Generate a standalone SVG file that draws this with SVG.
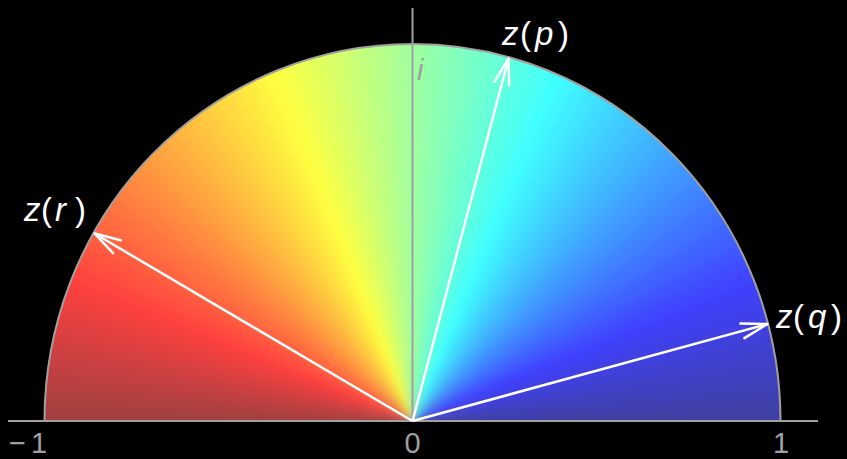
<svg xmlns="http://www.w3.org/2000/svg" width="847" height="459" viewBox="0 0 847 459">
<defs>
<style>
.lbl{font-family:"Liberation Sans",Arial,sans-serif;font-size:33px;fill:#fff}
.it{font-style:italic}
.tick{font-family:"Liberation Sans",Arial,sans-serif;font-size:29px;fill:#a0a0a0}
.axis{stroke:#a0a0a0;stroke-width:2;fill:none}
.arrow{stroke:#fff;stroke-width:2.5;fill:none;marker-end:url(#ah)}
</style>
<clipPath id="half"><path d="M44.5,421 A368,377 0 0,1 780.5,421 Z"/></clipPath>
<filter id="soft" x="-5%" y="-5%" width="110%" height="110%"><feGaussianBlur stdDeviation="3"/></filter>
<polygon id="w" points="0,0 460,1 460,-17.5"/>
<marker id="ah" markerUnits="userSpaceOnUse" markerWidth="40" markerHeight="30" refX="0" refY="0" viewBox="-30 -15 40 30" orient="auto"><path d="M-26,-7.5 L0,0 L-26,7.5" fill="none" stroke="#fff" stroke-width="2.5" stroke-linecap="round" stroke-linejoin="round"/></marker>
</defs>
<rect width="847" height="459" fill="#000"/>
<g id="disk" clip-path="url(#half)">
<g filter="url(#soft)">
<g transform="translate(412.5,421) scale(1,1.0245)">
<polygon points="-470,0 470,0 0,-470" fill="rgb(150,170,150)"/>
<polygon points="0,-1 470,-1 470,60 0,60" fill="rgb(64,64,160)"/>
<polygon points="0,-1 -470,-1 -470,60 0,60" fill="rgb(160,64,64)"/>
<use href="#w" transform="rotate(0)" fill="rgb(64,64,164)"/>
<use href="#w" transform="rotate(-2)" fill="rgb(64,64,173)"/>
<use href="#w" transform="rotate(-4)" fill="rgb(64,64,182)"/>
<use href="#w" transform="rotate(-6)" fill="rgb(64,64,190)"/>
<use href="#w" transform="rotate(-8)" fill="rgb(64,64,199)"/>
<use href="#w" transform="rotate(-10)" fill="rgb(64,64,208)"/>
<use href="#w" transform="rotate(-12)" fill="rgb(64,64,216)"/>
<use href="#w" transform="rotate(-14)" fill="rgb(64,64,225)"/>
<use href="#w" transform="rotate(-16)" fill="rgb(64,64,233)"/>
<use href="#w" transform="rotate(-18)" fill="rgb(64,64,242)"/>
<use href="#w" transform="rotate(-20)" fill="rgb(64,64,251)"/>
<use href="#w" transform="rotate(-22)" fill="rgb(64,68,255)"/>
<use href="#w" transform="rotate(-24)" fill="rgb(64,77,255)"/>
<use href="#w" transform="rotate(-26)" fill="rgb(64,85,255)"/>
<use href="#w" transform="rotate(-28)" fill="rgb(64,94,255)"/>
<use href="#w" transform="rotate(-30)" fill="rgb(64,102,255)"/>
<use href="#w" transform="rotate(-32)" fill="rgb(64,111,255)"/>
<use href="#w" transform="rotate(-34)" fill="rgb(64,119,255)"/>
<use href="#w" transform="rotate(-36)" fill="rgb(64,128,255)"/>
<use href="#w" transform="rotate(-38)" fill="rgb(64,136,255)"/>
<use href="#w" transform="rotate(-40)" fill="rgb(64,145,255)"/>
<use href="#w" transform="rotate(-42)" fill="rgb(64,153,255)"/>
<use href="#w" transform="rotate(-44)" fill="rgb(64,162,255)"/>
<use href="#w" transform="rotate(-46)" fill="rgb(64,170,255)"/>
<use href="#w" transform="rotate(-48)" fill="rgb(64,179,255)"/>
<use href="#w" transform="rotate(-50)" fill="rgb(64,187,255)"/>
<use href="#w" transform="rotate(-52)" fill="rgb(64,196,255)"/>
<use href="#w" transform="rotate(-54)" fill="rgb(64,204,255)"/>
<use href="#w" transform="rotate(-56)" fill="rgb(64,213,255)"/>
<use href="#w" transform="rotate(-58)" fill="rgb(64,221,255)"/>
<use href="#w" transform="rotate(-60)" fill="rgb(64,230,255)"/>
<use href="#w" transform="rotate(-62)" fill="rgb(64,238,255)"/>
<use href="#w" transform="rotate(-64)" fill="rgb(64,247,255)"/>
<use href="#w" transform="rotate(-66)" fill="rgb(64,255,255)"/>
<use href="#w" transform="rotate(-68)" fill="rgb(72,255,247)"/>
<use href="#w" transform="rotate(-70)" fill="rgb(81,255,238)"/>
<use href="#w" transform="rotate(-72)" fill="rgb(89,255,230)"/>
<use href="#w" transform="rotate(-74)" fill="rgb(97,255,222)"/>
<use href="#w" transform="rotate(-76)" fill="rgb(106,255,214)"/>
<use href="#w" transform="rotate(-78)" fill="rgb(114,255,205)"/>
<use href="#w" transform="rotate(-80)" fill="rgb(122,255,197)"/>
<use href="#w" transform="rotate(-82)" fill="rgb(131,255,189)"/>
<use href="#w" transform="rotate(-84)" fill="rgb(139,255,181)"/>
<use href="#w" transform="rotate(-86)" fill="rgb(147,255,172)"/>
<use href="#w" transform="rotate(-88)" fill="rgb(156,255,164)"/>
<use href="#w" transform="rotate(-90)" fill="rgb(164,255,156)"/>
<use href="#w" transform="rotate(-92)" fill="rgb(173,255,147)"/>
<use href="#w" transform="rotate(-94)" fill="rgb(182,255,138)"/>
<use href="#w" transform="rotate(-96)" fill="rgb(190,255,129)"/>
<use href="#w" transform="rotate(-98)" fill="rgb(199,255,121)"/>
<use href="#w" transform="rotate(-100)" fill="rgb(208,255,112)"/>
<use href="#w" transform="rotate(-102)" fill="rgb(216,255,103)"/>
<use href="#w" transform="rotate(-104)" fill="rgb(225,255,95)"/>
<use href="#w" transform="rotate(-106)" fill="rgb(233,255,86)"/>
<use href="#w" transform="rotate(-108)" fill="rgb(242,255,77)"/>
<use href="#w" transform="rotate(-110)" fill="rgb(251,255,68)"/>
<use href="#w" transform="rotate(-112)" fill="rgb(255,251,64)"/>
<use href="#w" transform="rotate(-114)" fill="rgb(255,243,64)"/>
<use href="#w" transform="rotate(-116)" fill="rgb(255,234,64)"/>
<use href="#w" transform="rotate(-118)" fill="rgb(255,226,64)"/>
<use href="#w" transform="rotate(-120)" fill="rgb(255,218,64)"/>
<use href="#w" transform="rotate(-122)" fill="rgb(255,209,64)"/>
<use href="#w" transform="rotate(-124)" fill="rgb(255,201,64)"/>
<use href="#w" transform="rotate(-126)" fill="rgb(255,193,64)"/>
<use href="#w" transform="rotate(-128)" fill="rgb(255,185,64)"/>
<use href="#w" transform="rotate(-130)" fill="rgb(255,176,64)"/>
<use href="#w" transform="rotate(-132)" fill="rgb(255,168,64)"/>
<use href="#w" transform="rotate(-134)" fill="rgb(255,160,64)"/>
<use href="#w" transform="rotate(-136)" fill="rgb(255,151,64)"/>
<use href="#w" transform="rotate(-138)" fill="rgb(255,143,64)"/>
<use href="#w" transform="rotate(-140)" fill="rgb(255,135,64)"/>
<use href="#w" transform="rotate(-142)" fill="rgb(255,126,64)"/>
<use href="#w" transform="rotate(-144)" fill="rgb(255,118,64)"/>
<use href="#w" transform="rotate(-146)" fill="rgb(255,110,64)"/>
<use href="#w" transform="rotate(-148)" fill="rgb(255,102,64)"/>
<use href="#w" transform="rotate(-150)" fill="rgb(255,93,64)"/>
<use href="#w" transform="rotate(-152)" fill="rgb(255,85,64)"/>
<use href="#w" transform="rotate(-154)" fill="rgb(255,77,64)"/>
<use href="#w" transform="rotate(-156)" fill="rgb(255,68,64)"/>
<use href="#w" transform="rotate(-158)" fill="rgb(251,64,64)"/>
<use href="#w" transform="rotate(-160)" fill="rgb(242,64,64)"/>
<use href="#w" transform="rotate(-162)" fill="rgb(233,64,64)"/>
<use href="#w" transform="rotate(-164)" fill="rgb(225,64,64)"/>
<use href="#w" transform="rotate(-166)" fill="rgb(216,64,64)"/>
<use href="#w" transform="rotate(-168)" fill="rgb(207,64,64)"/>
<use href="#w" transform="rotate(-170)" fill="rgb(199,64,64)"/>
<use href="#w" transform="rotate(-172)" fill="rgb(190,64,64)"/>
<use href="#w" transform="rotate(-174)" fill="rgb(181,64,64)"/>
<use href="#w" transform="rotate(-176)" fill="rgb(173,64,64)"/>
<use href="#w" transform="rotate(-178)" fill="rgb(164,64,64)"/>
</g>
</g>
</g>
<g id="axes">
<path class="axis" d="M44.5,421 A368,377 0 0,1 780.5,421"/>
<line class="axis" x1="8" y1="421" x2="818" y2="421"/>
<line class="axis" x1="412.5" y1="8" x2="412.5" y2="421"/>
</g>
<g id="connectors">
<line class="arrow" x1="412.5" y1="421" x2="94.5" y2="233.5"/>
<line class="arrow" x1="412.5" y1="421" x2="508.5" y2="58.5"/>
<line class="arrow" x1="412.5" y1="421" x2="767.5" y2="324"/>
</g>
<g id="label-zp"><text class="lbl" y="45"><tspan class="it" x="502">z</tspan><tspan x="520">(</tspan><tspan class="it" x="535">p</tspan><tspan x="558">)</tspan></text></g>
<g id="label-zr"><text class="lbl" y="221"><tspan class="it" x="24">z</tspan><tspan x="41">(</tspan><tspan class="it" x="55">r</tspan><tspan x="75">)</tspan></text></g>
<g id="label-zq"><text class="lbl" y="328"><tspan class="it" x="776">z</tspan><tspan x="793">(</tspan><tspan class="it" x="808">q</tspan><tspan x="831">)</tspan></text></g>
<g id="label-i"><text class="tick it" x="417" y="80" font-size="30">i</text></g>
<g id="ticks">
<text class="tick" y="453"><tspan x="9">−</tspan><tspan x="31">1</tspan></text>
<text class="tick" x="412.5" y="453" text-anchor="middle">0</text>
<text class="tick" x="781" y="453" text-anchor="middle">1</text>
</g>
</svg>
